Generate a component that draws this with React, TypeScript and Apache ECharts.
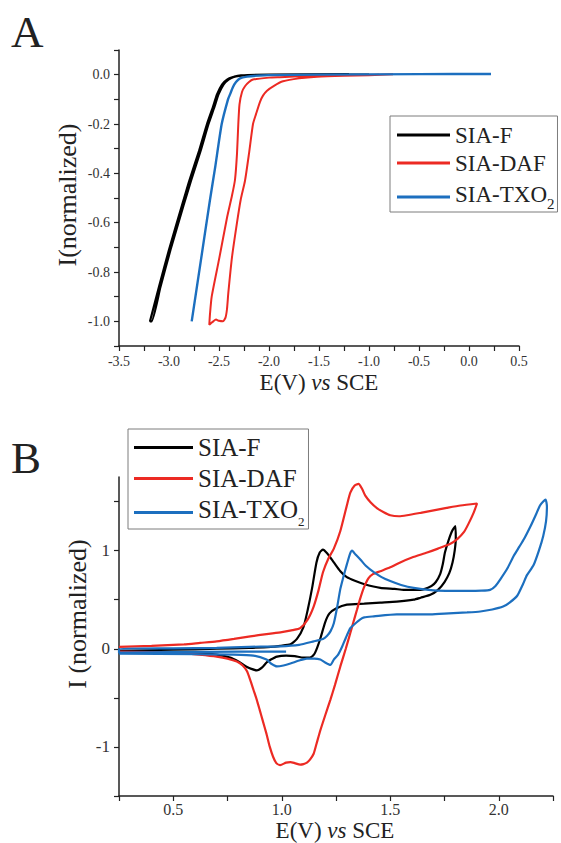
import React, { useEffect, useRef } from "react";
import * as echarts from "echarts";

// Compound names shared by both panels
const compounds = ["SIA-F", "SIA-DAF", "SIA-TXO2"];

// Panel A: reduction sweeps, [E (V vs SCE), normalized current]
const sfReduction: [number, number][] = [
  [-1.0, 0.0], [-1.8, 0.0], [-2.2, -0.002], [-2.3, -0.005], [-2.36, -0.01], [-2.42, -0.02],
  [-2.47, -0.04], [-2.52, -0.08], [-2.56, -0.13], [-2.62, -0.2], [-2.7, -0.31], [-2.797, -0.43],
  [-2.87, -0.53], [-3.0, -0.71], [-3.1, -0.86], [-3.19, -1.0],
  [-3.175, -1.0], [-3.085, -0.86], [-2.985, -0.71], [-2.855, -0.53], [-2.78, -0.43], [-2.685, -0.31],
  [-2.605, -0.2], [-2.545, -0.13], [-2.505, -0.08], [-2.455, -0.04], [-2.405, -0.02], [-2.345, -0.008],
  [-2.28, -0.003], [-2.0, 0.0], [-1.2, 0.002],
];

const dafReduction: [number, number][] = [
  [-0.76, 0.002], [-1.0, -0.002], [-1.25, -0.004], [-1.52, -0.008], [-1.7, -0.015], [-1.86, -0.027],
  [-1.95, -0.045], [-2.02, -0.065], [-2.06, -0.085], [-2.09, -0.11], [-2.13, -0.16], [-2.16, -0.2],
  [-2.2, -0.32], [-2.24, -0.43], [-2.283, -0.507], [-2.32, -0.6], [-2.37, -0.74], [-2.407, -0.886],
  [-2.42, -0.95], [-2.435, -0.985], [-2.46, -1.0], [-2.5, -0.998], [-2.53, -0.993], [-2.557, -1.0],
  [-2.58, -1.008], [-2.597, -1.014],
  [-2.59, -0.97], [-2.573, -0.9], [-2.5, -0.75], [-2.42, -0.58], [-2.37, -0.49], [-2.34, -0.426],
  [-2.32, -0.32], [-2.307, -0.2], [-2.295, -0.12], [-2.27, -0.07], [-2.24, -0.047], [-2.2, -0.03],
  [-2.16, -0.02], [-2.0, -0.012], [-1.89, -0.01], [-1.6, -0.005], [-1.2, -0.002], [-0.9, 0.0],
];

const txoReduction: [number, number][] = [
  [0.22, 0.003], [-0.5, 0.002], [-1.5, 0.0], [-2.0, -0.002], [-2.12, -0.004], [-2.22, -0.008],
  [-2.29, -0.015], [-2.33, -0.03], [-2.36, -0.05], [-2.39, -0.08], [-2.41, -0.1], [-2.473, -0.2],
  [-2.54, -0.38], [-2.59, -0.507], [-2.68, -0.75], [-2.773, -1.0],
];

// Panel B: cyclic voltammograms, [E (V vs SCE), normalized current]
const sfCV: [number, number][] = [
  [0.25, -0.02], [0.5, -0.01], [0.7, 0.0], [0.85, 0.01], [0.95, 0.02], [0.993, 0.03], [1.04, 0.045],
  [1.07, 0.1], [1.1, 0.22], [1.12, 0.4], [1.14, 0.62], [1.16, 0.88], [1.175, 0.98], [1.19, 1.01],
  [1.21, 0.97], [1.24, 0.88], [1.27, 0.79], [1.3, 0.73], [1.34, 0.69], [1.378, 0.66], [1.454, 0.62],
  [1.52, 0.61], [1.562, 0.6], [1.64, 0.6], [1.69, 0.64], [1.71, 0.68], [1.73, 0.76], [1.742, 0.86],
  [1.752, 0.98], [1.768, 1.1], [1.785, 1.2], [1.8, 1.25],
  [1.802, 1.12], [1.797, 1.0], [1.787, 0.88], [1.772, 0.77], [1.75, 0.68], [1.72, 0.6], [1.685, 0.55],
  [1.64, 0.52], [1.608, 0.5], [1.53, 0.48], [1.454, 0.47], [1.38, 0.46], [1.3, 0.45], [1.25, 0.41],
  [1.22, 0.36], [1.2, 0.27], [1.18, 0.12], [1.163, 0.01], [1.148, -0.06], [1.13, -0.09], [1.1, -0.09],
  [1.06, -0.075], [1.02, -0.07], [0.978, -0.08], [0.95, -0.11], [0.93, -0.14], [0.91, -0.19],
  [0.885, -0.22], [0.86, -0.205], [0.84, -0.185], [0.8, -0.13], [0.762, -0.09], [0.7, -0.06],
  [0.6, -0.045], [0.45, -0.04], [0.25, -0.04],
];

const dafCV: [number, number][] = [
  [0.25, 0.02], [0.4, 0.03], [0.55, 0.045], [0.624, 0.06], [0.7, 0.075], [0.78, 0.1], [0.855, 0.126],
  [0.93, 0.15], [1.0, 0.17], [1.05, 0.19], [1.085, 0.21], [1.12, 0.3], [1.147, 0.43], [1.17, 0.6],
  [1.19, 0.78], [1.215, 0.92], [1.24, 1.02], [1.27, 1.2], [1.3, 1.46], [1.316, 1.59], [1.335, 1.66],
  [1.354, 1.68], [1.37, 1.63], [1.385, 1.56], [1.41, 1.49], [1.44, 1.43], [1.47, 1.39], [1.5, 1.36],
  [1.54, 1.35], [1.577, 1.36], [1.64, 1.385], [1.7, 1.41], [1.76, 1.435], [1.824, 1.46], [1.9, 1.48],
  [1.885, 1.39], [1.862, 1.28], [1.84, 1.19], [1.81, 1.12], [1.777, 1.07], [1.72, 1.02], [1.67, 0.98],
  [1.6, 0.93], [1.546, 0.88], [1.5, 0.83], [1.454, 0.79], [1.42, 0.76], [1.4, 0.72], [1.378, 0.62],
  [1.36, 0.5], [1.347, 0.4], [1.33, 0.27], [1.316, 0.16], [1.295, 0.0], [1.27, -0.18], [1.245, -0.37],
  [1.224, -0.52], [1.2, -0.68], [1.178, -0.83], [1.16, -0.97], [1.147, -1.07], [1.13, -1.13],
  [1.116, -1.16], [1.1, -1.175], [1.085, -1.18], [1.06, -1.165], [1.04, -1.155], [1.02, -1.16],
  [0.993, -1.185], [0.975, -1.165], [0.96, -1.1], [0.945, -1.0], [0.93, -0.87], [0.912, -0.73],
  [0.898, -0.62], [0.885, -0.52], [0.87, -0.42], [0.855, -0.32], [0.84, -0.23], [0.82, -0.17],
  [0.793, -0.13], [0.75, -0.1], [0.7, -0.08], [0.62, -0.06], [0.547, -0.045], [0.4, -0.035],
  [0.25, -0.03],
];

const txoCV: [number, number][] = [
  [1.02, -0.03], [0.8, -0.03], [0.5, -0.035], [0.25, -0.04],
  [0.25, 0.0], [0.5, 0.005], [0.7, 0.01], [0.85, 0.02], [0.993, 0.025], [1.08, 0.04], [1.147, 0.075],
  [1.19, 0.1], [1.208, 0.13], [1.225, 0.18], [1.24, 0.26], [1.255, 0.42], [1.27, 0.61], [1.285, 0.74],
  [1.3, 0.86], [1.315, 0.97], [1.324, 1.0], [1.34, 0.96], [1.362, 0.91], [1.39, 0.84], [1.424, 0.78],
  [1.46, 0.73], [1.5, 0.69], [1.55, 0.65], [1.608, 0.62], [1.7, 0.595], [1.78, 0.59], [1.854, 0.59],
  [1.92, 0.592], [1.96, 0.6], [1.985, 0.64], [2.008, 0.71], [2.04, 0.82], [2.07, 0.95], [2.095, 1.04],
  [2.117, 1.12], [2.147, 1.25], [2.17, 1.36], [2.19, 1.46], [2.205, 1.5], [2.216, 1.52],
  [2.222, 1.45], [2.218, 1.3], [2.205, 1.15], [2.185, 1.0], [2.16, 0.85], [2.13, 0.75], [2.11, 0.65],
  [2.085, 0.54], [2.05, 0.47], [2.02, 0.43], [1.97, 0.4], [1.915, 0.38], [1.854, 0.37], [1.77, 0.36],
  [1.685, 0.35], [1.6, 0.35], [1.53, 0.35], [1.424, 0.33], [1.38, 0.32], [1.362, 0.3], [1.335, 0.25],
  [1.316, 0.21], [1.295, 0.11], [1.278, 0.02], [1.26, -0.06], [1.24, -0.11], [1.224, -0.165],
  [1.2, -0.14], [1.178, -0.11], [1.15, -0.1], [1.116, -0.1], [1.08, -0.12], [1.04, -0.15],
  [1.008, -0.17], [0.978, -0.18], [0.95, -0.15], [0.93, -0.11], [0.87, -0.07], [0.777, -0.06],
  [0.6, -0.055], [0.25, -0.05],
];

// Axis ticks and labelled values
const reductionPotentialTicks = [-3.5, -3.25, -3.0, -2.75, -2.5, -2.25, -2.0, -1.75, -1.5, -1.25, -1.0, -0.75, -0.5, -0.25, 0.0, 0.25, 0.5];
const reductionPotentialLabels = [-3.5, -3.0, -2.5, -2.0, -1.5, -1.0, -0.5, 0.0, 0.5];
const reductionCurrentTicks = [-1.1, -1.0, -0.9, -0.8, -0.7, -0.6, -0.5, -0.4, -0.3, -0.2, -0.1, 0.0, 0.1];
const reductionCurrentLabels = [-1.0, -0.8, -0.6, -0.4, -0.2, 0.0];
const cvPotentialTicks = [0.25, 0.5, 0.75, 1.0, 1.25, 1.5, 1.75, 2.0, 2.25];
const cvPotentialLabels = [0.5, 1.0, 1.5, 2.0];
const cvCurrentTicks = [-1.5, -1, -0.5, 0, 0.5, 1, 1.5];
const cvCurrentLabels = [-1, 0, 1];

const SERIF = "Liberation Serif";
const INK = "#222";
const LINE_COLORS = ["#000000", "#ec2a23", "#1c6fbf"];

function axisBase(fontSize: number, margin: number) {
  return {
    type: "value" as const,
    axisLine: { onZero: false, lineStyle: { color: INK, width: 1.5 } },
    axisTick: { inside: false, length: 5, lineStyle: { color: INK, width: 1.2 } },
    splitLine: { show: false },
    axisLabel: { fontFamily: SERIF, fontSize, color: "#333", margin },
  };
}

function legendFor(left: number, top: number, fontSize: number, lineHeight: number, itemWidth: number,
  subSize: number, subPad: number, padding: number[]) {
  return {
    data: compounds,
    orient: "vertical" as const,
    left,
    top,
    icon: "rect",
    itemWidth,
    itemHeight: 3,
    itemGap: 0,
    padding,
    borderColor: "#7d7d7d",
    borderWidth: 1,
    selectedMode: false,
    formatter: (name: string) => (name === "SIA-TXO2" ? "{m|SIA-TXO}{s|2}" : name),
    textStyle: {
      fontFamily: SERIF,
      fontSize,
      color: INK,
      lineHeight,
      rich: {
        m: { fontFamily: SERIF, fontSize, color: INK, lineHeight, verticalAlign: "top" },
        s: { fontFamily: SERIF, fontSize: subSize, color: INK, lineHeight: subSize, verticalAlign: "bottom", padding: [subPad, 0, 0, 0] },
      },
    },
  };
}

function lineSeries(name: string, data: [number, number][], color: string, panel: number, width: number) {
  return {
    type: "line" as const,
    name,
    data,
    xAxisIndex: panel,
    yAxisIndex: panel,
    symbol: "none",
    smooth: 0.2,
    lineStyle: { color, width },
    itemStyle: { color },
  };
}

function axisName(text: string, x: number, y: number, fontSize: number, rotated: boolean) {
  return {
    type: "text" as const,
    x,
    y,
    rotation: rotated ? Math.PI / 2 : 0,
    style: {
      text,
      fontFamily: SERIF,
      fontSize,
      fill: INK,
      align: "center",
      verticalAlign: "middle",
      rich: { i: { fontFamily: SERIF, fontSize, fontStyle: "italic", fill: INK } },
    },
  };
}

export default function App() {
  const ref = useRef<HTMLDivElement>(null);

  useEffect(() => {
    if (!ref.current) return;
    const chart = echarts.init(ref.current, null, { renderer: "svg" });
    const fmt1 = (v: number) => (Math.abs(v) < 1e-9 ? "0.0" : v.toFixed(1));
    const fmt0 = (v: number) => String(Math.round(v));

    chart.setOption({
      animation: false,
      backgroundColor: "#ffffff",
      textStyle: { fontFamily: SERIF },
      grid: [
        { left: 119, top: 50, width: 400, height: 296 },
        { left: 119, top: 477, width: 434, height: 319 },
      ],
      xAxis: [
        (() => {
          const a: any = axisBase(14, 8);
          a.gridIndex = 0;
          a.min = -3.5; a.max = 0.5; a.interval = 0.25;
          a.axisTick.customValues = reductionPotentialTicks;
          a.axisLabel.customValues = reductionPotentialLabels;
          a.axisLabel.formatter = fmt1;
          return a;
        })(),
        (() => {
          const a: any = axisBase(16, 5);
          a.gridIndex = 1;
          a.min = 0.25; a.max = 2.25; a.interval = 0.25;
          a.axisTick.customValues = cvPotentialTicks;
          a.axisLabel.customValues = cvPotentialLabels;
          a.axisLabel.formatter = fmt1;
          return a;
        })(),
      ],
      yAxis: [
        (() => {
          const a: any = axisBase(14, 9);
          a.gridIndex = 0;
          a.min = -1.1; a.max = 0.1; a.interval = 0.1;
          a.axisTick.customValues = reductionCurrentTicks;
          a.axisLabel.customValues = reductionCurrentLabels;
          a.axisLabel.formatter = fmt1;
          return a;
        })(),
        (() => {
          const a: any = axisBase(17, 9);
          a.gridIndex = 1;
          a.min = -1.5; a.max = 1.75; a.interval = 0.25;
          a.axisTick.customValues = cvCurrentTicks;
          a.axisLabel.customValues = cvCurrentLabels;
          a.axisLabel.formatter = fmt0;
          return a;
        })(),
      ],
      legend: [
        legendFor(390, 116, 23, 28, 53, 15, 19, [5, 3, 1, 7]),
        legendFor(128, 429, 25, 31, 59, 13, 21, [3, 4, 1, 6]),
      ],
      series: [
        lineSeries(compounds[0], sfReduction, LINE_COLORS[0], 0, 2.2),
        lineSeries(compounds[1], dafReduction, LINE_COLORS[1], 0, 2.0),
        lineSeries(compounds[2], txoReduction, LINE_COLORS[2], 0, 2.4),
        lineSeries(compounds[0], sfCV, LINE_COLORS[0], 1, 2.2),
        lineSeries(compounds[1], dafCV, LINE_COLORS[1], 1, 2.2),
        lineSeries(compounds[2], txoCV, LINE_COLORS[2], 1, 2.2),
      ],
      graphic: [
        { type: "text", x: 11, y: 32, style: { text: "A", fontFamily: SERIF, fontSize: 45, fill: INK, verticalAlign: "middle" } },
        { type: "text", x: 11, y: 458, style: { text: "B", fontFamily: SERIF, fontSize: 45, fill: INK, verticalAlign: "middle" } },
        axisName("E(V) {i|vs} SCE", 319, 382, 23, false),
        axisName("I(normalized)", 67, 195, 26, true),
        axisName("E(V) {i|vs} SCE", 335, 830, 23, false),
        axisName("I (normalized)", 77, 614, 26, true),
      ],
    });
    return () => chart.dispose();
  }, []);

  return (
    <div
      ref={ref}
      style={{ position: "absolute", left: 0, top: 0, width: 561, height: 843, background: "#fff" }}
    />
  );
}
